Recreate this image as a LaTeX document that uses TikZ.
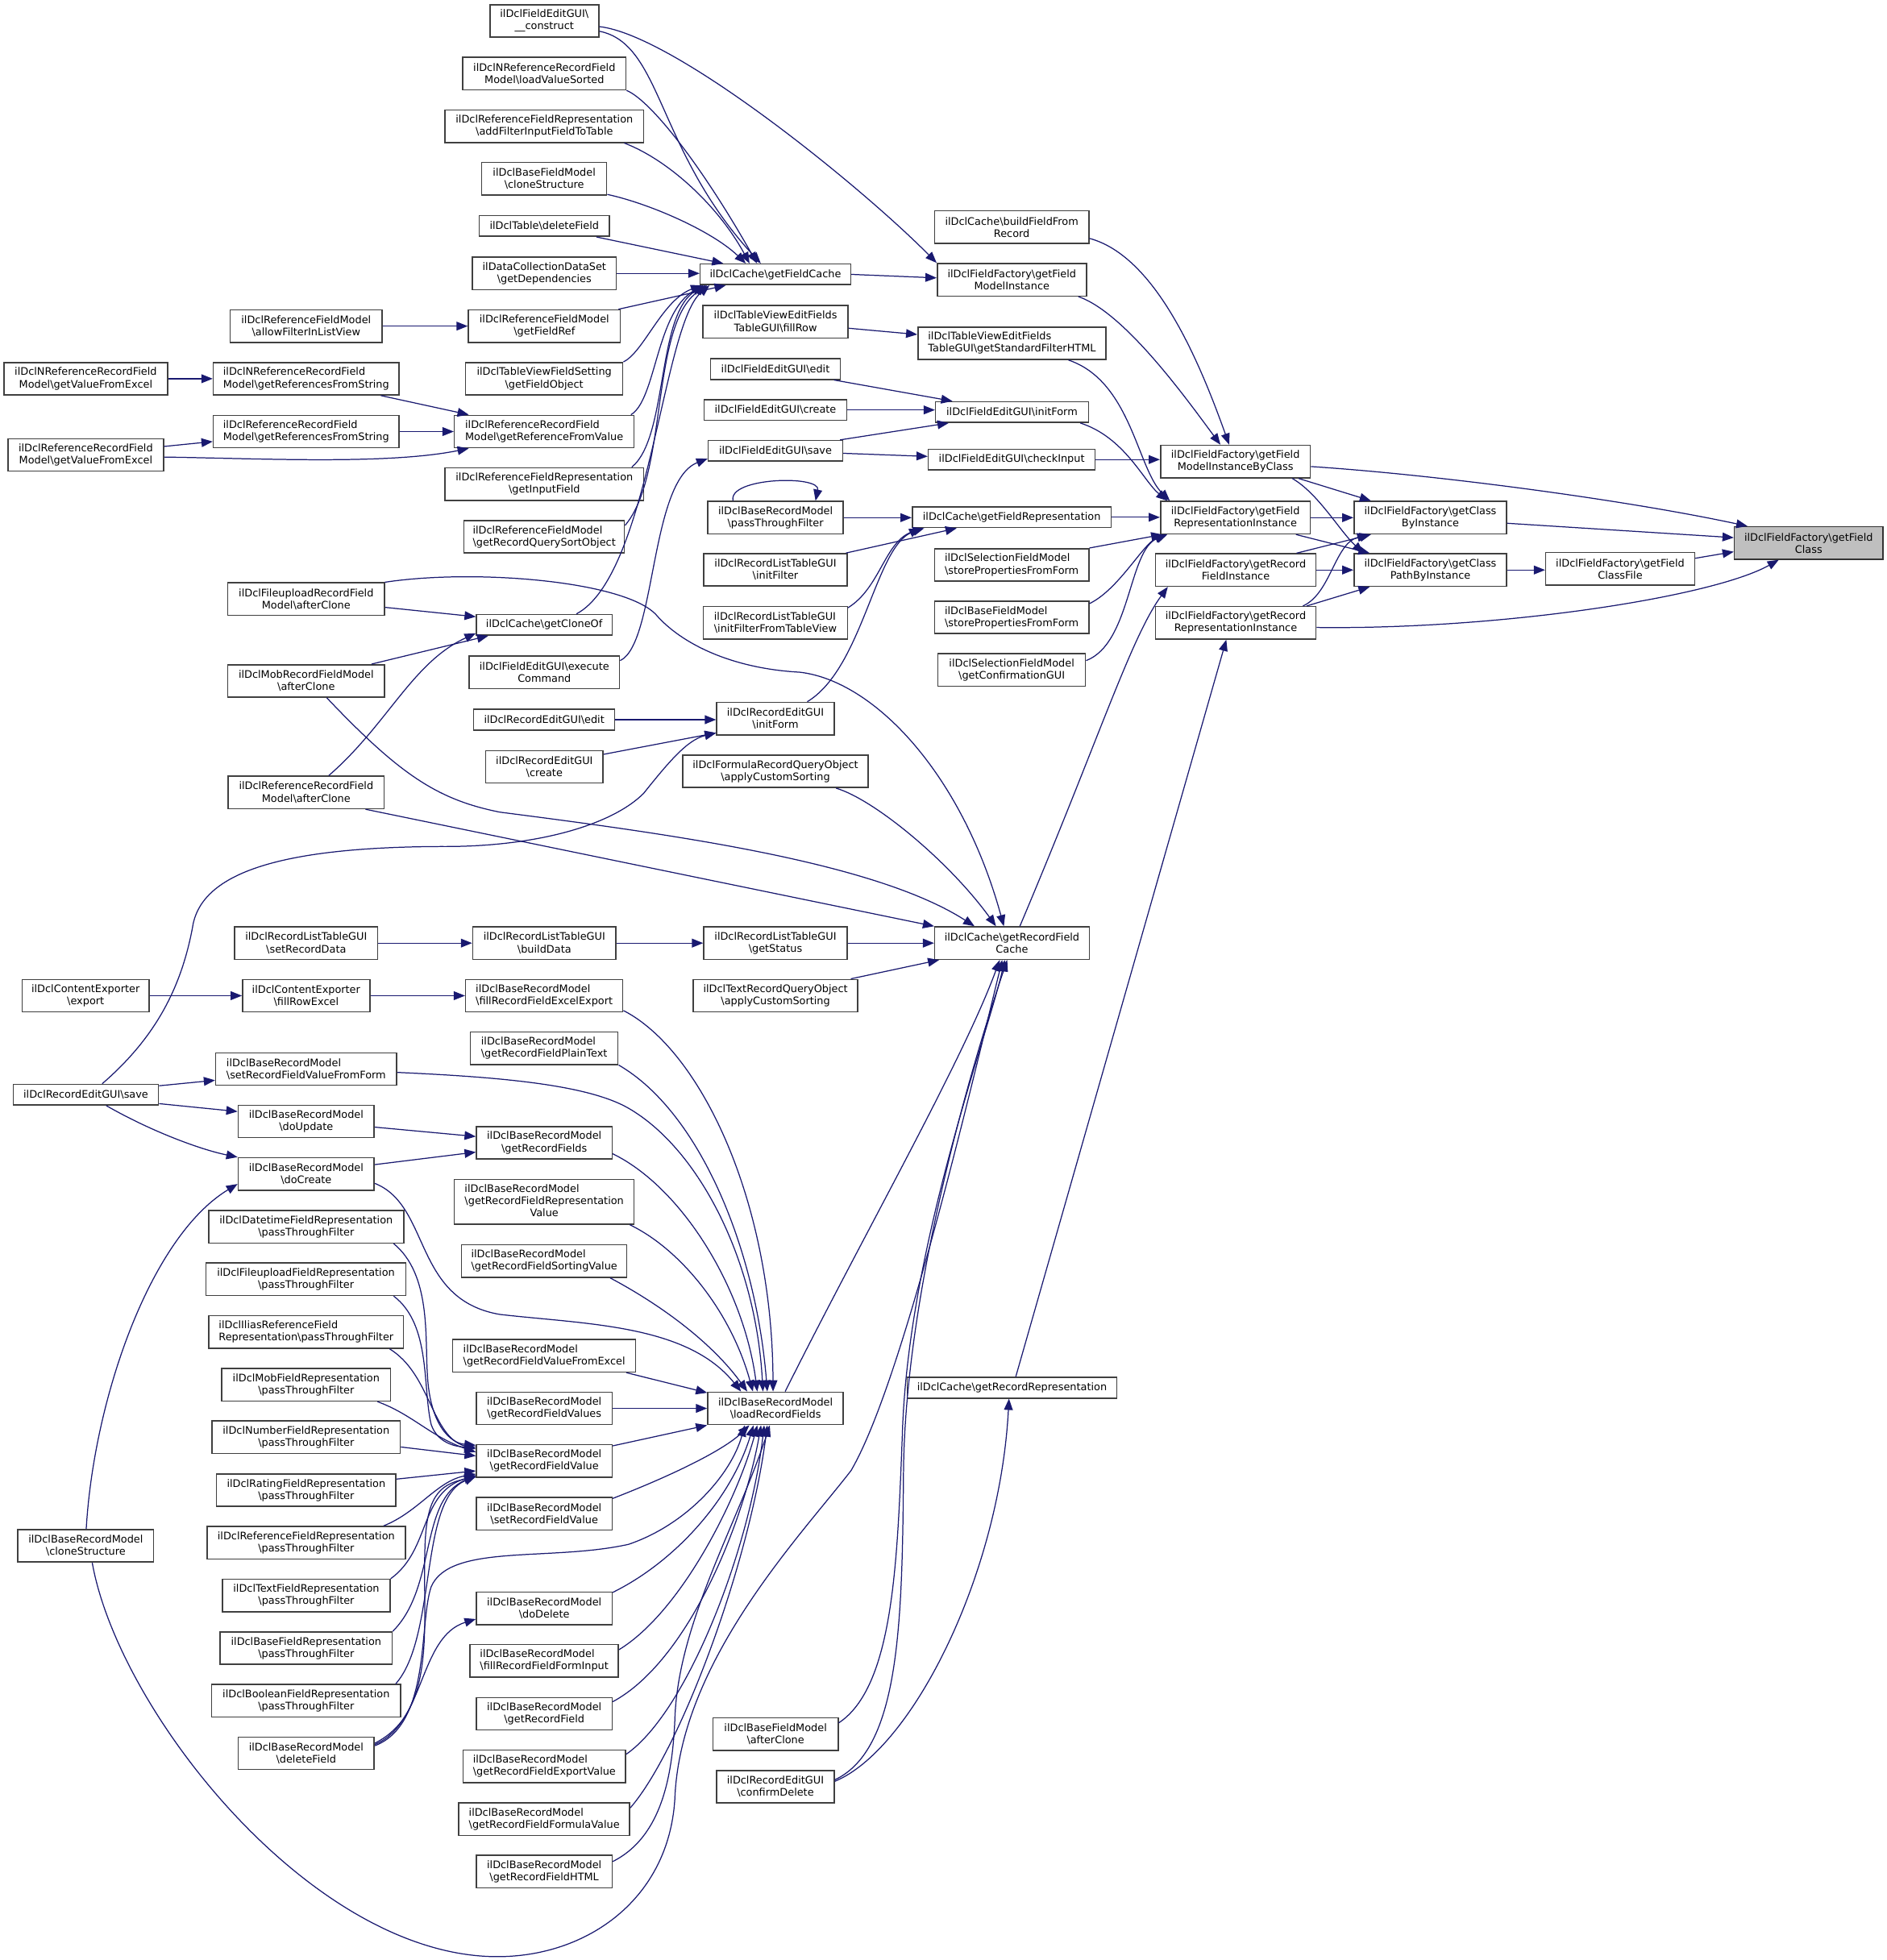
\documentclass[tikz,border=0pt]{standalone}
\usepackage{fontspec}
\setmainfont{DejaVu Sans}
\usetikzlibrary{arrows.meta,calc}
\definecolor{edgecol}{HTML}{191970}
\definecolor{boxcol}{HTML}{404040}
\definecolor{rootfill}{HTML}{BFBFBF}
\newcommand{\BSL}{\textbackslash{}}
\begin{document}
\begin{tikzpicture}[x=1pt,y=-1pt,
  nd/.style={draw=boxcol, fill=white, line width=1pt, inner xsep=2pt, inner ysep=0pt, font=\fontsize{8.3pt}{9.75pt}\selectfont, align=center},
  n1/.style={nd, minimum height=16.5pt},
  n2/.style={nd, minimum height=26pt},
  n3/.style={nd, minimum height=35.6pt},
  lft/.style={align=left},
  arr/.style={draw=edgecol, line width=0.8pt, -{Triangle[length=9pt,width=7pt]}},
]
\fill[white] (0,0) rectangle (1510,1568.7);
\path[use as bounding box] (0,0) rectangle (1510,1568.7);

% ---------- column 1 / 2 (left) ----------
\node[n2,minimum width=87pt] (constr) at (435.6,16.7) {ilDclFieldEditGUI\BSL\\\_\_construct};
\node[n2,minimum width=130.6pt] (lvs) at (435.6,58.9) {ilDclNReferenceRecordField\\Model\BSL loadValueSorted};
\node[n2,minimum width=158.9pt] (afi) at (435.6,101.0) {ilDclReferenceFieldRepresentation\\\BSL addFilterInputFieldToTable};
\node[n2,minimum width=100pt] (bfc) at (435.5,143.1) {ilDclBaseFieldModel\\\BSL cloneStructure};
\node[n1,minimum width=104.3pt] (tdf) at (435.6,180.9) {ilDclTable\BSL deleteField};
\node[n2,minimum width=115.2pt] (dep) at (435.6,218.8) {ilDataCollectionDataSet\\\BSL getDependencies};
\node[n2,minimum width=121.6pt] (afl) at (245,261) {ilDclReferenceFieldModel\\\BSL allowFilterInListView};
\node[n2,minimum width=121.6pt] (gfref) at (435.6,261) {ilDclReferenceFieldModel\\\BSL getFieldRef};
\node[n2,minimum width=130.9pt] (nrx) at (68.6,303.1) {ilDclNReferenceRecordField\\Model\BSL getValueFromExcel};
\node[n2,lft,minimum width=148.6pt] (nrs) at (245,303.1) {ilDclNReferenceRecordField\\Model\BSL getReferencesFromString};
\node[n2,minimum width=125.8pt] (gfo) at (435.5,303.1) {ilDclTableViewFieldSetting\\\BSL getFieldObject};
\node[n2,lft,minimum width=148.6pt] (rrs) at (245,345.4) {ilDclReferenceRecordField\\Model\BSL getReferencesFromString};
\node[n2,lft,minimum width=143.8pt] (rfv) at (435.5,345.4) {ilDclReferenceRecordField\\Model\BSL getReferenceFromValue};
\node[n2,minimum width=124.5pt] (rex) at (68.6,364.1) {ilDclReferenceRecordField\\Model\BSL getValueFromExcel};
\node[n2,minimum width=158.8pt] (gif) at (435.6,387.4) {ilDclReferenceFieldRepresentation\\\BSL getInputField};
\node[n2,lft,minimum width=128.3pt] (qso) at (435.5,429.6) {ilDclReferenceFieldModel\\\BSL getRecordQuerySortObject};
\node[n2,minimum width=125.4pt] (fcl) at (245,479.5) {ilDclFileuploadRecordField\\Model\BSL afterClone};
\node[n1,minimum width=108.5pt] (clo) at (435.5,500.1) {ilDclCache\BSL getCloneOf};
\node[n2,minimum width=120.4pt] (exc) at (435.6,538.1) {ilDclFieldEditGUI\BSL execute\\Command};
\node[n2,minimum width=125.4pt] (mcl) at (245,545.0) {ilDclMobRecordFieldModel\\\BSL afterClone};
\node[n1,minimum width=112.9pt] (red) at (435.5,576.0) {ilDclRecordEditGUI\BSL edit};
\node[n2,minimum width=94pt] (rcr) at (435.6,613.7) {ilDclRecordEditGUI\\\BSL create};
\node[n2,minimum width=124.8pt] (rcl) at (245,634.2) {ilDclReferenceRecordField\\Model\BSL afterClone};
\node[n2,minimum width=114.6pt] (srd) at (245,754.8) {ilDclRecordListTableGUI\\\BSL setRecordData};
\node[n2,minimum width=114.6pt] (bld) at (435.6,754.8) {ilDclRecordListTableGUI\\\BSL buildData};
\node[n2,minimum width=101.8pt] (exp) at (68.5,796.9) {ilDclContentExporter\\\BSL export};
\node[n2,minimum width=101.8pt] (frx) at (245,796.9) {ilDclContentExporter\\\BSL fillRowExcel};
\node[n2,lft,minimum width=125.8pt] (fxe) at (435.5,796.9) {ilDclBaseRecordModel\\\BSL fillRecordFieldExcelExport};
\node[n2,lft,minimum width=118.1pt] (ptx) at (435.5,838.9) {ilDclBaseRecordModel\\\BSL getRecordFieldPlainText};
\node[n2,lft,minimum width=144.8pt] (sff) at (245,855.6) {ilDclBaseRecordModel\\\BSL setRecordFieldValueFromForm};
\node[n1,minimum width=116.2pt] (rsv) at (68.7,876.1) {ilDclRecordEditGUI\BSL save};
\node[n2,minimum width=108.8pt] (dup) at (245,897.5) {ilDclBaseRecordModel\\\BSL doUpdate};
\node[n2,minimum width=108.5pt] (grf) at (435.5,914.6) {ilDclBaseRecordModel\\\BSL getRecordFields};
\node[n2,minimum width=108.8pt] (dcr) at (245,939.6) {ilDclBaseRecordModel\\\BSL doCreate};
\node[n3,minimum width=143.8pt] (rpv) at (435.5,961.9) {\begin{tabular}{@{}l@{}}ilDclBaseRecordModel\\\BSL getRecordFieldRepresentation\\\multicolumn{1}{@{}c@{}}{Value}\end{tabular}};
\node[n2,minimum width=156.2pt] (dtp) at (245,981.8) {ilDclDatetimeFieldRepresentation\\\BSL passThroughFilter};
\node[n2,lft,minimum width=132.2pt] (srt) at (435.5,1009.3) {ilDclBaseRecordModel\\\BSL getRecordFieldSortingValue};
\node[n2,minimum width=159.8pt] (fup) at (244.8,1023.8) {ilDclFileuploadFieldRepresentation\\\BSL passThroughFilter};
\node[n2,lft,minimum width=155.6pt] (ilp) at (245,1066.1) {ilDclIliasReferenceField\\Representation\BSL passThroughFilter};
\node[n2,lft,minimum width=146.4pt] (vfx) at (435.5,1085.1) {ilDclBaseRecordModel\\\BSL getRecordFieldValueFromExcel};
\node[n2,minimum width=135.1pt] (mbp) at (245,1108.3) {ilDclMobFieldRepresentation\\\BSL passThroughFilter};
\node[n2,minimum width=108.5pt] (gfvs) at (435.5,1127.2) {ilDclBaseRecordModel\\\BSL getRecordFieldValues};
\node[n2,minimum width=150.5pt] (nmp) at (245,1150.2) {ilDclNumberFieldRepresentation\\\BSL passThroughFilter};
\node[n2,minimum width=108.5pt] (gfv) at (435.5,1169.2) {ilDclBaseRecordModel\\\BSL getRecordFieldValue};
\node[n2,minimum width=143.4pt] (rtp) at (245,1192.7) {ilDclRatingFieldRepresentation\\\BSL passThroughFilter};
\node[n2,minimum width=108.5pt] (sfv) at (435.5,1211.6) {ilDclBaseRecordModel\\\BSL setRecordFieldValue};
\node[n2,minimum width=108.5pt] (brc) at (68.6,1237.2) {ilDclBaseRecordModel\\\BSL cloneStructure};
\node[n2,minimum width=158.8pt] (rfp) at (245,1234.7) {ilDclReferenceFieldRepresentation\\\BSL passThroughFilter};
\node[n2,minimum width=134.1pt] (txp) at (245.1,1277.0) {ilDclTextFieldRepresentation\\\BSL passThroughFilter};
\node[n2,minimum width=108.5pt] (ddl) at (435.5,1287.3) {ilDclBaseRecordModel\\\BSL doDelete};
\node[n2,minimum width=137.6pt] (bfp) at (245,1319.1) {ilDclBaseFieldRepresentation\\\BSL passThroughFilter};
\node[n2,lft,minimum width=118.7pt] (ffi) at (435.5,1329.3) {ilDclBaseRecordModel\\\BSL fillRecordFieldFormInput};
\node[n2,minimum width=151.2pt] (blp) at (245,1361.2) {ilDclBooleanFieldRepresentation\\\BSL passThroughFilter};
\node[n2,minimum width=108.5pt] (grfd) at (435.5,1371.6) {ilDclBaseRecordModel\\\BSL getRecordField};
\node[n2,minimum width=108.8pt] (bdf) at (245,1403.2) {ilDclBaseRecordModel\\\BSL deleteField};
\node[n2,lft,minimum width=130pt] (exv) at (435.6,1413.6) {ilDclBaseRecordModel\\\BSL getRecordFieldExportValue};
\node[n2,lft,minimum width=136.8pt] (fmv) at (435.5,1455.9) {ilDclBaseRecordModel\\\BSL getRecordFieldFormulaValue};
\node[n2,minimum width=108.5pt] (html) at (435.5,1497.9) {ilDclBaseRecordModel\\\BSL getRecordFieldHTML};

% ---------- column 3 ----------
\node[n1,minimum width=120.4pt] (gfc) at (620.5,219.6) {ilDclCache\BSL getFieldCache};
\node[n2,minimum width=116.1pt] (frw) at (620.6,257.5) {ilDclTableViewEditFields\\TableGUI\BSL fillRow};
\node[n1,minimum width=103.6pt] (fed) at (620.5,295.4) {ilDclFieldEditGUI\BSL edit};
\node[n1,minimum width=114pt] (fcr) at (620.5,328.1) {ilDclFieldEditGUI\BSL create};
\node[n1,minimum width=107.5pt] (fsv) at (620.5,360.8) {ilDclFieldEditGUI\BSL save};
\node[n2,minimum width=108.5pt] (ptf) at (620.6,414.3) {ilDclBaseRecordModel\\\BSL passThroughFilter};
\node[n2,minimum width=114.6pt] (rif) at (620.5,456.1) {ilDclRecordListTableGUI\\\BSL initFilter};
\node[n2,lft,minimum width=115.2pt] (iftv) at (620.5,498.4) {ilDclRecordListTableGUI\\\BSL initFilterFromTableView};
\node[n2,minimum width=94pt] (rgi) at (620.5,575.1) {ilDclRecordEditGUI\\\BSL initForm};
\node[n2,minimum width=148.6pt] (fso) at (620.5,617.3) {ilDclFormulaRecordQueryObject\\\BSL applyCustomSorting};
\node[n2,minimum width=114.6pt] (gst) at (620.5,754.8) {ilDclRecordListTableGUI\\\BSL getStatus};
\node[n2,minimum width=131.5pt] (tso) at (620.6,796.9) {ilDclTextRecordQueryObject\\\BSL applyCustomSorting};
\node[n2,minimum width=108.5pt] (lrf) at (620.6,1127.2) {ilDclBaseRecordModel\\\BSL loadRecordFields};
\node[n2,minimum width=100.1pt] (bac) at (620.6,1387.9) {ilDclBaseFieldModel\\\BSL afterClone};
\node[n2,minimum width=94pt] (cdl) at (620.5,1430) {ilDclRecordEditGUI\\\BSL confirmDelete};

% ---------- column 4 ----------
\node[n2,minimum width=123.3pt] (bfr) at (809.6,181.8) {ilDclCache\BSL buildFieldFrom\\Record};
\node[n2,minimum width=119.4pt] (fmi) at (809.7,223.9) {ilDclFieldFactory\BSL getField\\ModelInstance};
\node[n2,lft,minimum width=150.5pt] (sfh) at (809.8,274.7) {ilDclTableViewEditFields\\TableGUI\BSL getStandardFilterHTML};
\node[n1,minimum width=122.3pt] (fif) at (809.8,329.8) {ilDclFieldEditGUI\BSL initForm};
\node[n1,minimum width=133.5pt] (ci) at (809.6,367.8) {ilDclFieldEditGUI\BSL checkInput};
\node[n1,minimum width=159.1pt] (gfr) at (809.6,414.0) {ilDclCache\BSL getFieldRepresentation};
\node[n2,lft,minimum width=123.3pt] (ss) at (809.6,452.1) {ilDclSelectionFieldModel\\\BSL storePropertiesFromForm};
\node[n2,lft,minimum width=123.3pt] (bs) at (809.6,494.1) {ilDclBaseFieldModel\\\BSL storePropertiesFromForm};
\node[n2,minimum width=118.1pt] (cg) at (809.6,536.2) {ilDclSelectionFieldModel\\\BSL getConfirmationGUI};
\node[n2,minimum width=123.6pt] (rfc) at (809.8,754.8) {ilDclCache\BSL getRecordField\\Cache};
\node[n1,minimum width=167.8pt] (grr) at (809.8,1110.7) {ilDclCache\BSL getRecordRepresentation};

% ---------- columns 5-8 ----------
\node[n2,minimum width=119.9pt] (fmibc) at (988.6,369.4) {ilDclFieldFactory\BSL getField\\ModelInstanceByClass};
\node[n2,minimum width=119.9pt] (fri) at (988.6,414.3) {ilDclFieldFactory\BSL getField\\RepresentationInstance};
\node[n2,minimum width=128.6pt] (rfi) at (988.8,456.2) {ilDclFieldFactory\BSL getRecord\\FieldInstance};
\node[n2,minimum width=128.6pt] (rri) at (988.8,498.5) {ilDclFieldFactory\BSL getRecord\\RepresentationInstance};
\node[n2,minimum width=122.1pt] (cbi) at (1144.6,414.3) {ilDclFieldFactory\BSL getClass\\ByInstance};
\node[n2,minimum width=122.1pt] (cpbi) at (1144.6,456.2) {ilDclFieldFactory\BSL getClass\\PathByInstance};
\node[n2,minimum width=119.2pt] (fcf) at (1296.5,455.3) {ilDclFieldFactory\BSL getField\\ClassFile};
\node[n2,minimum width=118.9pt,fill=rootfill,draw=black!80] (root) at (1447.3,434.6) {ilDclFieldFactory\BSL getField\\Class};

% ================= edges =================
% into root
\draw[arr] ($(fmibc.east)+(0,4)$) .. controls (1150,380) and (1300,400) .. ($(root.north west)+(11,0)$);
\draw[arr] ($(cbi.east)+(0,4.5)$) -- ($(root.west)+(0,-4.3)$);
\draw[arr] ($(fcf.east)+(0,-8.5)$) -- ($(root.west)+(0,7)$);
\draw[arr] ($(rri.east)+(0,3.7)$) .. controls (1200,504) and (1370,478) .. ($(root.south west)+(36,0)$);
\draw[arr] (cpbi.east) -- (cpbi.east -| fcf.west);
% into getClassByInstance / PathByInstance
\draw[arr] ($(fmibc.south east)+(-10,0)$) -- ($(cbi.north west)+(14,0)$);
\draw[arr] ($(fmibc.south east)+(-15,0)$) .. controls (1055,395) and (1072,425) .. ($(cpbi.north west)+(8,0)$);
\draw[arr] (fri.east) -- (fri.east -| cbi.west);
\draw[arr] ($(fri.south east)+(-12,0)$) -- ($(cpbi.north west)+(13,0)$);
\draw[arr] ($(rfi.north east)+(-16,0)$) -- ($(cbi.south west)+(14,0)$);
\draw[arr] (rfi.east) -- (rfi.east -| cpbi.west);
\draw[arr] ($(rri.north east)+(-11,0)$) .. controls (1065,475) and (1068,435) .. ($(cbi.south west)+(12,0)$);
\draw[arr] ($(rri.north east)+(-8,0)$) -- ($(cpbi.south west)+(13,0)$);
% into getFieldModelInstanceByClass
\draw[arr] ($(bfr.east)+(0,9)$) .. controls (925,205) and (960,290) .. ($(fmibc.north)+(-5,0)$);
\draw[arr] ($(fmi.south east)+(-7,0)$) .. controls (900,250) and (950,320) .. ($(fmibc.north)+(-12,0)$);
\draw[arr] (ci.east) -- (ci.east -| fmibc.west);
% into getFieldRepresentationInstance
\draw[arr] ($(sfh.south east)+(-30.5,0)$) .. controls (905,305) and (910,375) .. ($(fri.north west)+(8,0)$);
\draw[arr] ($(fif.south east)+(-7,0)$) .. controls (900,350) and (915,385) .. ($(fri.north west)+(6,0)$);
\draw[arr] (gfr.east) -- (gfr.east -| fri.west);
\draw[arr] (ss.north east) -- ($(fri.south west)+(2,0)$);
\draw[arr] ($(bs.north east)+(0,2.5)$) .. controls (895,472) and (915,435) .. ($(fri.south west)+(5,0)$);
\draw[arr] ($(cg.east)+(0,-7.5)$) .. controls (905,515) and (903,440) .. ($(fri.south west)+(6,0)$);
% into getRecordFieldInstance / RepresentationInstance
\draw[arr] ($(rfc.north)+(6.3,0)$) .. controls (880,590) and (905,510) .. ($(rfi.south west)+(10.5,0)$);
\draw[arr] ($(grr.north)+(3,0)$) -- ($(rri.south)+(-7.5,0)$);
% into getFieldModelInstance
\draw[arr] (gfc.east) -- ($(fmi.west)+(0,-1.5)$);
\draw[arr] ($(constr.east)+(0,4.6)$) .. controls (540,28) and (690,150) .. (fmi.north west);
% into getFieldCache
\draw[arr] ($(constr.east)+(0,8.3)$) .. controls (530,35) and (525,120) .. ($(gfc.north west)+(49,0)$);
\draw[arr] (lvs.south east) .. controls (520,80) and (560,130) .. ($(gfc.north west)+(46,0)$);
\draw[arr] ($(afi.south east)+(-16,0)$) .. controls (535,128) and (575,165) .. ($(gfc.north west)+(40,0)$);
\draw[arr] ($(bfc.south east)+(0,-1)$) .. controls (520,163) and (570,185) .. ($(gfc.north west)+(37,0)$);
\draw[arr] ($(tdf.south east)+(-11,0)$) -- ($(gfc.north west)+(19,0)$);
\draw[arr] (dep.east) -- (dep.east -| gfc.west);
\draw[arr] ($(gfref.north east)+(-2,0)$) -- ($(gfc.south west)+(21,0)$);
\draw[arr] (gfo.north east) .. controls (515,282) and (530,240) .. ($(gfc.south west)+(2,0)$);
\draw[arr] ($(rfv.north east)+(-3,0)$) .. controls (525,320) and (525,250) .. ($(gfc.south west)+(3,0)$);
\draw[arr] ($(gif.north east)+(-10,0)$) .. controls (535,350) and (525,250) .. ($(gfc.south west)+(5,0)$);
\draw[arr] ($(qso.north east)+(0,4.4)$) .. controls (535,380) and (520,260) .. ($(gfc.south west)+(6,0)$);
\draw[arr] ($(clo.north east)+(-29,0)$) .. controls (520,460) and (530,260) .. ($(gfc.south west)+(8,0)$);
% reference field model cluster
\draw[arr] (afl.east) -- (gfref.west);
\draw[arr] (nrx.east) -- (nrs.west);
\draw[arr] ($(nrs.south east)+(-15,0)$) -- ($(rfv.north west)+(12,0)$);
\draw[arr] (rrs.east) -- (rfv.west);
\draw[arr] ($(rex.east)+(0,-6.8)$) -- ($(rrs.west)+(0,8)$);
\draw[arr] ($(rex.east)+(0,1.7)$) .. controls (210,367) and (310,372) .. ($(rfv.south west)+(12,0)$);
% field edit GUI cluster
\draw[arr] ($(frw.east)+(0,5.2)$) -- ($(sfh.west)+(0,-7)$);
\draw[arr] ($(fed.south east)+(-5.4,0)$) -- ($(fif.north west)+(14,0)$);
\draw[arr] (fcr.east) -- (fcr.east -| fif.west);
\draw[arr] ($(fsv.north east)+(-2.5,0)$) -- ($(fif.south west)+(11,0)$);
\draw[arr] ($(fsv.east)+(0,2)$) -- ($(ci.west)+(0,-2.5)$);
\draw[arr] ($(exc.east)+(0,-9.4)$) .. controls (525,515) and (520,385) .. ($(fsv.south west)+(0,-2.5)$);
% into getFieldRepresentation
\draw[arr] (ptf.east) -- (ptf.east -| gfr.west);
\draw[arr] ($(rif.north east)+(-1.3,0)$) -- ($(gfr.south west)+(36,0)$);
\draw[arr] ($(iftv.north east)+(0,1.5)$) .. controls (705,470) and (708,432) .. ($(gfr.south west)+(10,0)$);
\draw[arr] ($(rgi.north)+(25.5,0)$) .. controls (690,535) and (700,440) .. ($(gfr.south west)+(7,0)$);
\draw[arr] ($(ptf.north)+(-34,0)$) .. controls (582,382) and (657,380) .. ($(ptf.north)+(32,0)$);
% into RecordEditGUI initForm
\draw[arr] (red.east) -- (red.east -| rgi.west);
\draw[arr] ($(rcr.east)+(0,-10)$) -- ($(rgi.south west)+(0,-2)$);
\draw[arr] ($(rsv.north)+(13.1,0)$) .. controls (125,830) and (145,790) .. (154,742.6) .. controls (160,700) and (220,678) .. (353,677.5) .. controls (430,678) and (490,660) .. (515,635) .. controls (535,610) and (550,592) .. ($(rgi.south west)+(0,-2)$);
% into getCloneOf
\draw[arr] ($(fcl.east)+(0,6.6)$) -- ($(clo.west)+(0,-6.5)$);
\draw[arr] ($(mcl.north east)+(-10.9,0)$) -- ($(clo.south west)+(10,0)$);
\draw[arr] ($(rcl.north)+(18.1,0)$) .. controls (310,580) and (330,530) .. ($(clo.south west)+(0,-2)$);
% into getRecordFieldCache
\draw[arr] (gst.east) -- (gst.east -| rfc.west);
\draw[arr] ($(tso.north east)+(-6,0)$) -- ($(rfc.south west)+(4,0)$);
\draw[arr] ($(rcl.south east)+(-15.4,0)$) -- (rfc.north west);
\draw[arr] ($(mcl.south)+(16.5,0)$) .. controls (320,620) and (350,640) .. (400,650) .. controls (540,668) and (700,690) .. ($(rfc.north)+(-30,0)$);
\draw[arr] ($(fcl.north east)+(-0.3,0)$) .. controls (380,455) and (500,465) .. (525,492) .. controls (545,515) and (585,535) .. (640,538) .. controls (700,545) and (770,620) .. ($(rfc.north)+(-6.5,0)$);
\draw[arr] ($(fso.south east)+(-26.3,0)$) .. controls (700,640) and (760,690) .. ($(rfc.north)+(-12.8,0)$);
\draw[arr] ($(lrf.north)+(7.7,0)$) .. controls (690,990) and (770,850) .. ($(rfc.south)+(-9.8,0)$);
\draw[arr] ($(brc.south)+(5.2,0)$) .. controls (95,1370) and (250,1566) .. (398,1566) .. controls (470,1566) and (535,1520) .. (540,1440) .. controls (544,1330) and (640,1230) .. (681,1177) .. controls (720,1110) and (770,900) .. ($(rfc.south)+(-7.8,0)$);
\draw[arr] ($(bac.east)+(0,-9)$) .. controls (715,1350) and (718,1250) .. (722,1150) .. controls (726,1000) and (790,830) .. ($(rfc.south)+(-5.8,0)$);
\draw[arr] ($(cdl.east)+(0,-5.5)$) .. controls (720,1400) and (722,1300) .. (723,1176) .. controls (725,1020) and (785,830) .. ($(rfc.south)+(-3.8,0)$);
\draw[arr] ($(cdl.east)+(0,-4.3)$) .. controls (730,1400) and (800,1260) .. ($(grr.south)+(-2.4,0)$);
% list table / exporter chains
\draw[arr] (srd.east) -- (bld.west);
\draw[arr] (bld.east) -- (gst.west);
\draw[arr] (exp.east) -- (frx.west);
\draw[arr] (frx.east) -- (fxe.west);
% record edit save / create
\draw[arr] ($(rsv.east)+(0,-7.1)$) -- ($(sff.west)+(0,9)$);
\draw[arr] ($(rsv.east)+(0,7.2)$) -- ($(dup.west)+(0,-7.9)$);
\draw[arr] ($(rsv.south)+(16.3,0)$) .. controls (120,905) and (160,920) .. (dcr.north west);
\draw[arr] ($(brc.north)+(0.4,0)$) .. controls (75,1120) and (120,990) .. ($(dcr.west)+(0,8)$);
\draw[arr] ($(dup.east)+(0,4.6)$) -- ($(grf.west)+(0,-5)$);
\draw[arr] ($(dcr.east)+(0,-7.5)$) -- ($(grf.west)+(0,7.5)$);
% into loadRecordFields (from above)
\draw[arr] ($(fxe.south east)+(0,-1.6)$) .. controls (560,840) and (618,960) .. ($(lrf.north)+(-2,0)$);
\draw[arr] (ptx.south east) .. controls (560,890) and (605,1000) .. ($(lrf.north)+(-6.6,0)$);
\draw[arr] ($(sff.east)+(0,2.7)$) .. controls (400,862) and (470,868) .. (503,887) .. controls (560,920) and (605,1010) .. ($(lrf.north)+(-10.1,0)$);
\draw[arr] ($(grf.east)+(0,8.8)$) .. controls (545,950) and (595,1030) .. ($(lrf.north)+(-14.6,0)$);
\draw[arr] ($(rpv.south east)+(-4,0)$) .. controls (545,1000) and (585,1050) .. ($(lrf.north)+(-18.1,0)$);
\draw[arr] ($(srt.south east)+(-13.8,0)$) .. controls (530,1045) and (570,1075) .. ($(lrf.north)+(-22.6,0)$);
\draw[arr] ($(dcr.east)+(0,7.5)$) .. controls (345,965) and (330,1040) .. (400,1052) .. controls (470,1060) and (550,1060) .. ($(lrf.north)+(-27.6,0)$);
\draw[arr] ($(vfx.south east)+(-8,0)$) -- ($(lrf.north west)+(0,1)$);
\draw[arr] (gfvs.east) -- (gfvs.east -| lrf.west);
\draw[arr] ($(gfv.east)+(0,-12)$) -- (lrf.south west);
% into loadRecordFields (from below)
\draw[arr] ($(sfv.east)+(0,-12.3)$) .. controls (540,1180) and (580,1160) .. ($(lrf.south)+(-21,0)$);
\draw[arr] ($(ddl.east)+(0,-12.8)$) .. controls (540,1250) and (585,1200) .. ($(lrf.south)+(-17.6,0)$);
\draw[arr] ($(ffi.east)+(0,-9)$) .. controls (545,1290) and (590,1200) .. ($(lrf.south)+(-14.6,0)$);
\draw[arr] ($(grfd.east)+(0,-9.6)$) .. controls (550,1330) and (595,1220) .. ($(lrf.south)+(-11.6,0)$);
\draw[arr] ($(exv.east)+(0,-9.6)$) .. controls (550,1370) and (600,1240) .. ($(lrf.south)+(-9.1,0)$);
\draw[arr] ($(fmv.east)+(0,-9)$) .. controls (545,1400) and (600,1250) .. ($(lrf.south)+(-6.6,0)$);
\draw[arr] ($(html.east)+(0,-8)$) .. controls (530,1470) and (538,1420) .. (540,1377) .. controls (542,1300) and (590,1220) .. ($(lrf.south)+(-4.6,0)$);
\draw[arr] ($(bdf.east)+(0,-6)$) .. controls (345,1380) and (335,1300) .. (345,1270) .. controls (360,1235) and (440,1250) .. (503,1236) .. controls (550,1220) and (585,1180) .. ($(lrf.south)+(-24.6,0)$);
% deleteField
\draw[arr] ($(bdf.east)+(0,-7)$) .. controls (340,1380) and (335,1310) .. ($(ddl.south west)+(0,-5)$);
\draw[arr] ($(bdf.east)+(0,-8)$) .. controls (350,1370) and (338,1300) .. (340,1240) .. controls (341,1200) and (350,1188) .. ($(gfv.south west)+(0,-0.5)$);
% passThroughFilter -> getRecordFieldValue
\draw[arr] ($(dtp.south east)+(-8.6,0)$) .. controls (345,1020) and (340,1070) .. (342,1100) .. controls (344,1140) and (360,1155) .. ($(gfv.north west)+(0,1)$);
\draw[arr] ($(fup.south east)+(-10.2,0)$) .. controls (345,1060) and (338,1110) .. (345,1140) .. controls (350,1155) and (365,1158) .. ($(gfv.north west)+(0,2.5)$);
\draw[arr] ($(ilp.south east)+(-11.5,0)$) .. controls (345,1100) and (345,1150) .. ($(gfv.north west)+(0,4)$);
\draw[arr] ($(mbp.south east)+(-11,0)$) .. controls (330,1132) and (345,1150) .. ($(gfv.west)+(0,-7)$);
\draw[arr] ($(nmp.east)+(0,7.9)$) -- ($(gfv.west)+(0,-4)$);
\draw[arr] ($(rtp.east)+(0,-8.9)$) -- ($(gfv.west)+(0,8)$);
\draw[arr] ($(rfp.north east)+(-17.9,0)$) .. controls (335,1210) and (350,1185) .. ($(gfv.south west)+(0,-3)$);
\draw[arr] (txp.north east) .. controls (345,1240) and (335,1195) .. ($(gfv.south west)+(0,-2)$);
\draw[arr] (bfp.north east) .. controls (350,1270) and (335,1200) .. ($(gfv.south west)+(0,-1.5)$);
\draw[arr] ($(blp.north east)+(-4.5,0)$) .. controls (350,1310) and (335,1200) .. ($(gfv.south west)+(0,-1)$);
\end{tikzpicture}
\end{document}
